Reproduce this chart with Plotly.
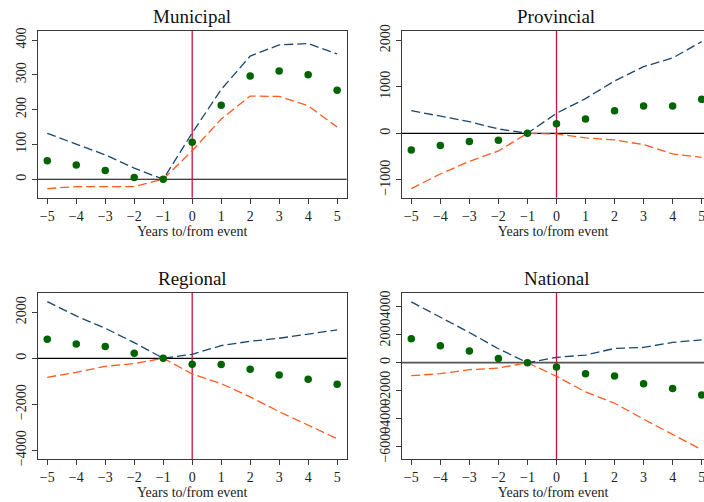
import plotly.graph_objects as go

years = [-5, -4, -3, -2, -1, 0, 1, 2, 3, 4, 5]

# Municipal
mun_est = [53, 41, 25, 5, 0, 106, 213, 297, 311, 300, 256]
mun_hi = [132, 101, 70, 32, 0, 133, 258, 354, 386, 390, 360]
mun_lo = [-27, -21, -21, -21, 0, 82, 173, 239, 238, 211, 150]

# Provincial
pro_est = [-358, -265, -179, -150, 0, 208, 308, 487, 588, 588, 731]
pro_hi = [487, 373, 251, 93, 0, 430, 746, 1125, 1434, 1620, 1971]
pro_lo = [-1190, -875, -602, -380, 0, -14, -100, -143, -244, -444, -516]

# Regional
reg_est = [826, 623, 507, 217, 0, -261, -275, -478, -725, -913, -1130]
reg_hi = [2464, 1840, 1304, 681, 0, 174, 551, 739, 870, 1043, 1232]
reg_lo = [-826, -609, -348, -232, 0, -681, -1101, -1681, -2319, -2899, -3493]

# National
nat_est = [1708, 1210, 830, 308, 0, -308, -783, -949, -1495, -1851, -2301]
nat_hi = [4342, 3250, 2159, 996, 0, 380, 546, 1020, 1091, 1447, 1637]
nat_lo = [-925, -783, -498, -380, 0, -973, -2088, -2894, -4033, -5125, -6216]

titles = ["Municipal", "Provincial", "Regional", "National"]
x_ticks = [-5, -4, -3, -2, -1, 0, 1, 2, 3, 4, 5]
x_tick_text = ["\u22125", "\u22124", "\u22123", "\u22122", "\u22121", "0", "1", "2", "3", "4", "5"]
y_ticks = [
    [0, 100, 200, 300, 400],
    [-1000, 0, 1000, 2000],
    [-4000, -2000, 0, 2000],
    [-6000, -4000, -2000, 0, 2000, 4000],
]
y_ranges = [[-53, 426], [-1385, 2200], [-4390, 2850], [-6900, 5000]]

panels = [
    (mun_est, mun_hi, mun_lo),
    (pro_est, pro_hi, pro_lo),
    (reg_est, reg_hi, reg_lo),
    (nat_est, nat_hi, nat_lo),
]

W, H = 704, 502
BLUE = "#1a476f"
ORANGE = "#ff5a1e"
GREEN = "#006400"
RED = "#d0103a"
FRAME = "#3a3a3a"
FONT = "Liberation Serif"

# pixel geometry
x_doms = [(37.7, 346.7), (402.0, 704.0)]
y_doms = [(31.0, 197.7), (292.7, 459.3)]
x_rngs = [[-5.33, 5.33], [-5.32, 5.08]]

fig = go.Figure()

def fmt_tick(v):
    return str(v).replace("-", "\u2212")

for i, (est, hi, lo) in enumerate(panels):
    r, c = divmod(i, 2)
    n = i + 1
    xa = "x" if n == 1 else f"x{n}"
    ya = "y" if n == 1 else f"y{n}"
    fig.add_trace(go.Scatter(x=years, y=hi, mode="lines", xaxis=xa, yaxis=ya,
                             line=dict(color=BLUE, width=1.3, dash="9px,4px"), showlegend=False))
    fig.add_trace(go.Scatter(x=years, y=lo, mode="lines", xaxis=xa, yaxis=ya,
                             line=dict(color=ORANGE, width=1.3, dash="9px,4px"), showlegend=False))
    fig.add_trace(go.Scatter(x=years, y=est, mode="markers", xaxis=xa, yaxis=ya,
                             marker=dict(color=GREEN, size=7.5), showlegend=False))

    xd = x_doms[c]
    yd = y_doms[r]
    xlay = "xaxis" if n == 1 else f"xaxis{n}"
    ylay = "yaxis" if n == 1 else f"yaxis{n}"
    fig.layout[xlay] = dict(
        domain=[xd[0] / W, xd[1] / W], anchor=ya, range=x_rngs[c],
        tickmode="array", tickvals=x_ticks, ticktext=x_tick_text,
        ticks="outside", ticklen=5, tickcolor=FRAME, tickwidth=1,
        showline=True, linecolor=FRAME, linewidth=1.3, mirror=True,
        showgrid=False, zeroline=False, ticklabeloverflow="allow", automargin=False,
        tickfont=dict(family=FONT, size=14, color="#222"),
        title=dict(text="Years to/from event", font=dict(family=FONT, size=14, color="#222"), standoff=0),
    )
    fig.layout[ylay] = dict(
        domain=[1 - yd[1] / H, 1 - yd[0] / H], anchor=xa, range=y_ranges[i],
        tickmode="array", tickvals=y_ticks[i], ticktext=[fmt_tick(v) for v in y_ticks[i]],
        tickangle=-90,
        ticks="outside", ticklen=5, tickcolor=FRAME, tickwidth=1,
        showline=True, linecolor=FRAME, linewidth=1.3, mirror=(c == 0),
        showgrid=False, zeroline=False, ticklabeloverflow="allow", automargin=False,
        tickfont=dict(family=FONT, size=14, color="#222"),
    )
    zero_color = "#555555" if i == 3 else "#000000"
    zero_w = 1.8 if i == 3 else 1.2
    fig.add_shape(type="line", xref=f"{xa} domain", yref=ya, x0=0, x1=1, y0=0, y1=0,
                  line=dict(color=zero_color, width=zero_w), layer="below")
    fig.add_shape(type="line", xref=xa, yref=f"{ya} domain", x0=0, x1=0, y0=0, y1=1,
                  line=dict(color=RED, width=1.3), layer="below")

    cx = 192.2 if c == 0 else 556.3
    cy = 17 if r == 0 else 278.5
    fig.add_annotation(text=titles[i], xref="paper", yref="paper", x=cx / W, y=1 - cy / H,
                       xanchor="center", yanchor="middle", showarrow=False,
                       font=dict(family=FONT, size=19, color="#111"))

fig.update_layout(
    width=W, height=H, margin=dict(l=0, r=0, t=0, b=0),
    paper_bgcolor="white", plot_bgcolor="white",
    font=dict(family=FONT),
)

fig.write_html("out.html")
